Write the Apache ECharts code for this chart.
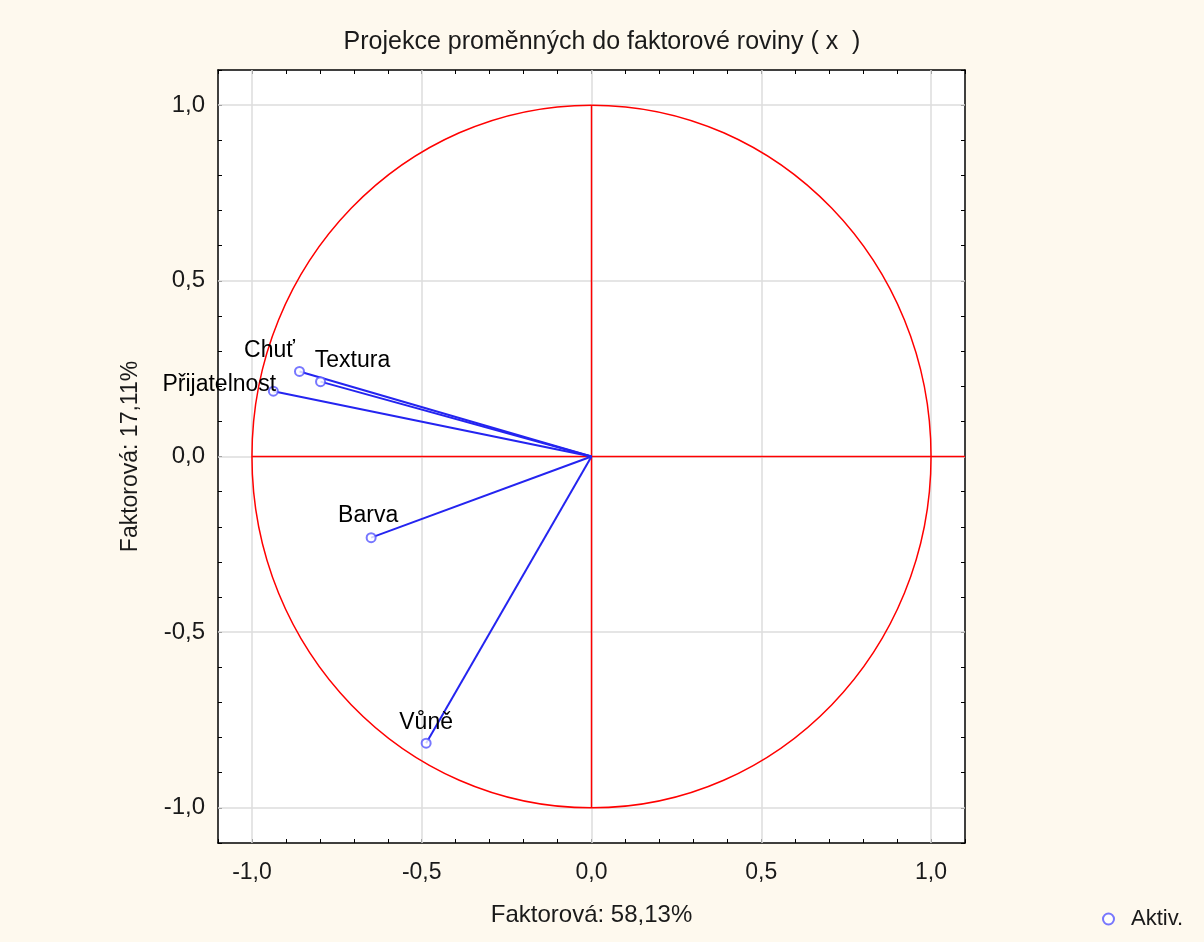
<!DOCTYPE html>
<html>
<head>
<meta charset="utf-8">
<script src="https://cdn.jsdelivr.net/npm/echarts@6/dist/echarts.min.js"></script>
<style>
html,body{margin:0;padding:0;background:#fef9ee;}
#chart{width:1204px;height:942px;}
</style>
</head>
<body>
<div id="chart"></div>
<script>
const variables = ['Chuť', 'Textura', 'Přijatelnost', 'Barva', 'Vůně'];
const factor1 = [-0.860, -0.798, -0.937, -0.649, -0.487];
const factor2 = [0.242, 0.213, 0.186, -0.231, -0.816];
const gridValues = [-1, -0.5, 0, 0.5, 1];
const titleText = 'Projekce proměnných do faktorové roviny ( x  )';
const xName = 'Faktorová: 58,13%';
const yName = 'Faktorová: 17,11%';
const legendName = 'Aktiv.';

const labelOffsets = [[-30, 1], [32, 1], [-54, 16], [-3, 0], [0, 1]];

const FONT = 'Liberation Sans, Arial, sans-serif';
const TXT = '#1a1a1a';
const fmt = v => {
  const r = Math.round(v * 10);
  if (r % 5 !== 0) return '';
  return (r / 10).toFixed(1).replace('.', ',');
};

const axisCommon = {
  type: 'value', min: -1.1, max: 1.1, interval: 0.1,
  axisLine: { show: true, onZero: false, lineStyle: { color: '#000', width: 1.5 } },
  axisTick: { show: true, inside: true, length: 4, lineStyle: { color: '#000' } },
  splitLine: { show: false }
};

const vectorSeries = variables.map((name, i) => ({
  type: 'line', name: name + '_v', silent: true, showSymbol: false,
  lineStyle: { color: '#2424f0', width: 2 }, z: 6,
  data: [[0, 0], [factor1[i], factor2[i]]]
}));

const option = {
  backgroundColor: '#fef9ee',
  animation: false,
  textStyle: { fontFamily: FONT },
  title: {
    text: titleText, left: 'center', top: 25,
    textStyle: { fontSize: 25, fontWeight: 'normal', color: TXT, fontFamily: FONT }
  },
  legend: {
    data: [{ name: legendName, icon: 'emptyCircle' }],
    left: 1097, top: 903, itemWidth: 11, itemHeight: 11,
    textStyle: { fontSize: 22, color: TXT, fontFamily: FONT, padding: [0, 0, 0, 12] }
  },
  grid: { left: 218, right: 239, top: 70, bottom: 99, show: true, backgroundColor: '#fff', borderWidth: 0 },
  xAxis: [
    Object.assign({}, axisCommon, {
      position: 'bottom', name: xName, nameLocation: 'middle', nameGap: 60,
      nameTextStyle: { fontSize: 24, color: TXT, fontFamily: FONT },
      axisLabel: { formatter: fmt, fontSize: 23, color: TXT, margin: 18, fontFamily: FONT, showMinLabel: true, showMaxLabel: true }
    }),
    Object.assign({}, axisCommon, { position: 'top', axisLabel: { show: false } })
  ],
  yAxis: [
    Object.assign({}, axisCommon, {
      position: 'left', name: yName, nameLocation: 'middle', nameGap: 76,
      nameTextStyle: { fontSize: 23, color: TXT, fontFamily: FONT },
      axisLabel: { formatter: fmt, fontSize: 24, color: TXT, margin: 13, fontFamily: FONT }
    }),
    Object.assign({}, axisCommon, { position: 'right', axisLabel: { show: false } })
  ],
  series: [
    {
      type: 'line', name: 'grid', silent: true, data: [], z: 1,
      markLine: {
        silent: true, symbol: 'none', label: { show: false },
        lineStyle: { color: '#dcdcdc', width: 1.5, type: 'solid' },
        data: gridValues.map(v => ({ xAxis: v })).concat(gridValues.map(v => ({ yAxis: v })))
      }
    },
    {
      type: 'custom', name: 'circle', silent: true, z: 5,
      data: [[0, 0, 1]],
      renderItem: (params, api) => {
        const c = api.coord([api.value(0), api.value(1)]);
        const s = api.size([api.value(2), api.value(2)]);
        return {
          type: 'ellipse',
          shape: { cx: c[0], cy: c[1], rx: s[0], ry: s[1] },
          style: { fill: null, stroke: '#ff0000', lineWidth: 1.5 }
        };
      }
    },
    {
      type: 'line', name: 'hline', silent: true, showSymbol: false, z: 5,
      lineStyle: { color: '#ff0000', width: 1.5, opacity: 1 },
      emphasis: { disabled: true },
      data: [[-1, 0], [1.1, 0]]
    },
    {
      type: 'line', name: 'vline', silent: true, showSymbol: false, z: 5,
      lineStyle: { color: '#ff0000', width: 1.5, opacity: 1 },
      emphasis: { disabled: true },
      data: [[0, 1], [0, -1]]
    }
  ].concat(vectorSeries).concat([
    {
      type: 'scatter', name: legendName, z: 8,
      symbol: 'emptyCircle', symbolSize: 9,
      itemStyle: { color: '#5555ff', borderColor: '#5555ff', borderWidth: 1.5 },
      data: variables.map((n, i) => ({
        name: n, value: [factor1[i], factor2[i]],
        label: { show: true, position: 'top', offset: labelOffsets[i], formatter: n,
          fontSize: 23, color: '#000', opacity: 1, textBorderWidth: 0, fontFamily: FONT }
      }))
    }
  ])
};

const chart = echarts.init(document.getElementById('chart'), null, { renderer: 'canvas' });
chart.setOption(option);
</script>
</body>
</html>
